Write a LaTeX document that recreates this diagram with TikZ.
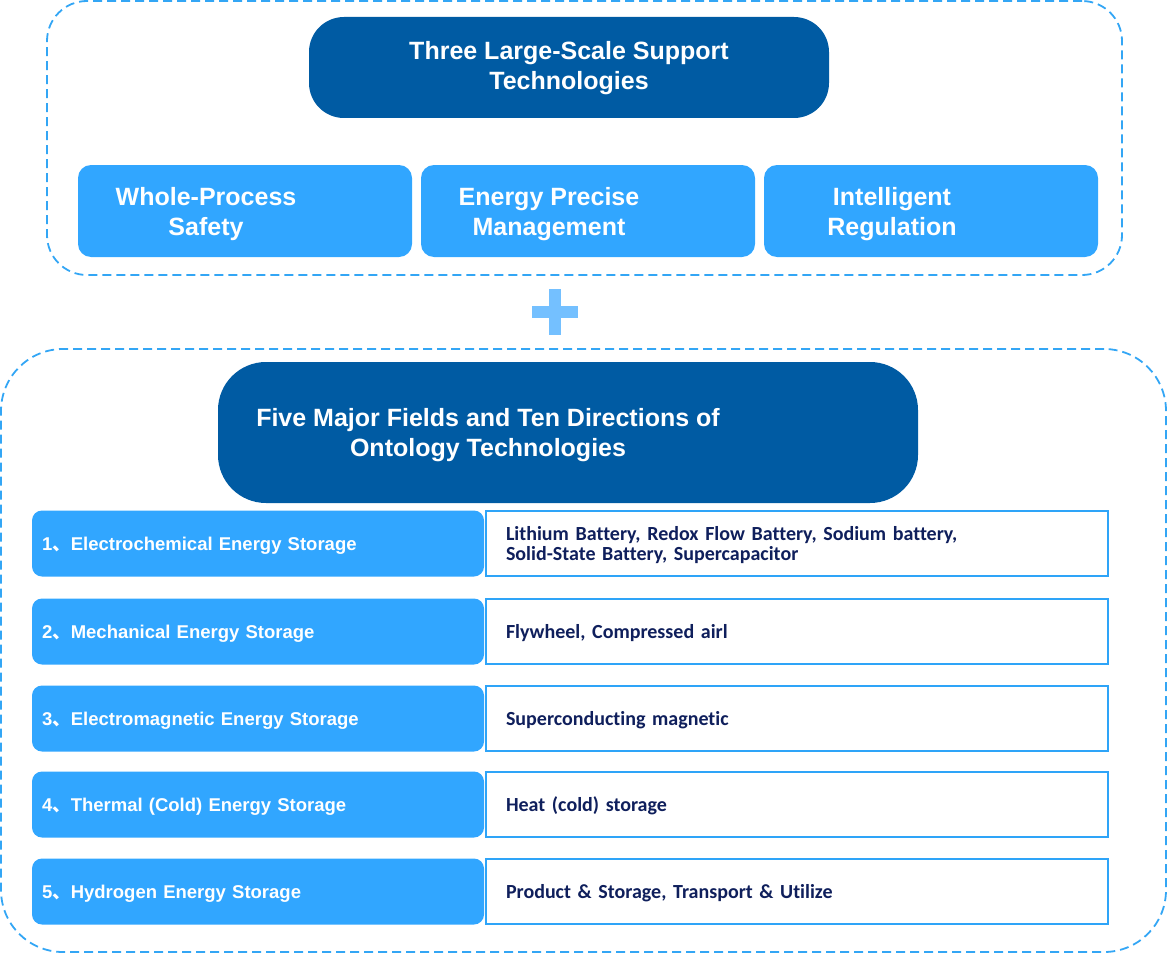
\documentclass[tikz,border=0pt]{standalone}
\usepackage{fontspec}
\setmainfont{Liberation Sans}
\newfontfamily\cjk{Noto Sans CJK SC}
\newfontfamily\descfont[Ligatures=NoCommon]{Carlito}
\usepackage{xcolor}
\usetikzlibrary{positioning}
\definecolor{headblue}{RGB}{0,91,163}
\definecolor{fieldblue}{RGB}{49,166,255}
\definecolor{plusblue}{RGB}{116,192,255}
\definecolor{dashblue}{RGB}{51,166,245}
\definecolor{lineblue}{RGB}{46,164,248}
\definecolor{navy}{RGB}{15,31,92}
\newcommand{\dun}{{\cjk 、}}

\begin{document}
\begin{tikzpicture}[
	x=1pt, y=-1pt,
	frame/.style = {
		draw=dashblue, line width=1.8pt,
		dash pattern=on 9pt off 5pt,
		inner sep=0pt
	},
	headbox/.style = {
		fill=headblue, inner sep=0pt
	},
	techbox/.style = {
		fill=fieldblue, rounded corners=13pt,
		minimum width=334pt, minimum height=92pt,
		inner sep=0pt
	},
	boxtext/.style = {
		text=white, align=center,
		font=\bfseries\fontsize{25}{30}\selectfont
	},
	field/.style = {
		fill=fieldblue, rounded corners=10pt,
		minimum width=452pt, minimum height=66pt,
		text width=432pt, inner xsep=10pt, align=left,
		text height=13pt, text depth=0pt,
		text=white, font=\bfseries\fontsize{18.5}{22}\selectfont
	},
	direction/.style = {
		draw=lineblue, line width=1.6pt, fill=white,
		minimum width=622pt, minimum height=65pt,
		text width=582pt, inner xsep=20pt, align=left,
		text height=13pt, text depth=#1,
		text=navy, font=\descfont\bfseries\fontsize{20}{20}\selectfont
	},
	direction/.default=0pt
]
	\useasboundingbox (0,0) rectangle (1167,955);
	% Support technologies
	\node[frame, rounded corners=40pt, minimum width=1075pt, minimum height=274pt] (topframe) at (584.5,138) {};
	\node[headbox, rounded corners=35pt, minimum width=520pt, minimum height=101pt] (support) at (569,67.5) {};
	\node[boxtext] (supporttext) at (569,68) {Three Large-Scale Support\\Technologies};
	\foreach \i/\x/\txt in {1/245/{Whole-Process\\Safety}, 2/588/{Energy Precise\\Management}, 3/931/{Intelligent\\Regulation}} {
		\node[techbox] (tech\i) at (\x,211) {};
		\node[boxtext] (techtext\i) at ([xshift=-39pt, yshift=-3pt]tech\i.center) {\txt};
	}
	% Plus
	\fill[plusblue] (532,306) rectangle (578,318);
	\fill[plusblue] (549,289) rectangle (561,335);
	% Ontology technologies
	\node[frame, rounded corners=62pt, minimum width=1165pt, minimum height=603pt] (bottomframe) at (583.5,650.5) {};
	\node[headbox, rounded corners=48pt, minimum width=700pt, minimum height=141pt] (ontology) at (568,432.5) {};
	\node[boxtext] (ontologytext) at (488,435) {Five Major Fields and Ten Directions of\\Ontology Technologies};
	\foreach \n/\y/\tdep/\fld/\dir in {
		1/543.5/20pt/{Electrochemical Energy Storage}/{Lithium Battery, Redox Flow Battery, Sodium battery,\\Solid-State Battery, Supercapacitor},
		2/631.5/0pt/{Mechanical Energy Storage}/{Flywheel, Compressed airl},
		3/718.5/0pt/{Electromagnetic Energy Storage}/{Superconducting magnetic},
		4/804.5/0pt/{Thermal (Cold) Energy Storage}/{Heat (cold) storage},
		5/891.5/0pt/{Hydrogen Energy Storage}/{Product \& Storage, Transport \& Utilize}} {
		\node[field] (field\n) at (258,\y) {\n\dun\fld};
		\node[direction=\tdep, right=1pt of field\n] (dir\n) {\dir};
	}
\end{tikzpicture}
\end{document}
